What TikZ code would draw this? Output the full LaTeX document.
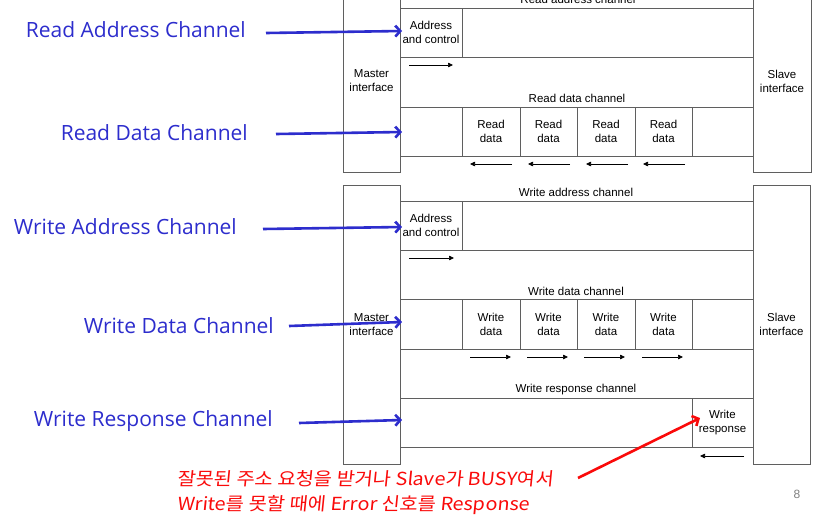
\documentclass[tikz,border=0pt]{standalone}
\usepackage{fontspec}
\setmainfont{Liberation Sans}
\newfontfamily\lblfont{Open Sans}
\newfontfamily\krfont[FakeStretch=1.1,FakeSlant=0.1]{Noto Sans CJK KR}
\usetikzlibrary{arrows.meta}
\definecolor{lblblue}{RGB}{45,45,205}
\definecolor{lnclr}{RGB}{95,95,95}
\definecolor{redclr}{RGB}{250,10,10}
\begin{document}
\begin{tikzpicture}[x=1pt,y=-1pt,
  dfont/.style={font=\fontsize{11.5}{14}\selectfont},
  iface/.style={draw=lnclr, line width=0.8pt, fill=white, align=center, dfont, inner sep=0pt},
  txt/.style={align=center, dfont, inner sep=0pt},
  chline/.style={draw=lnclr, line width=0.8pt},
  flow/.style={-{Triangle[length=5pt,width=4.5pt]}, line width=0.7pt},
  lbl/.style={font=\lblfont\fontsize{21}{24}\selectfont, text=lblblue, anchor=east, inner sep=0pt},
  bluearrow/.style={draw=lblblue, line width=2.6pt, -{Straight Barb[length=5pt,width=11pt]}},
  redarrow/.style={draw=redclr, line width=2.6pt, -{Straight Barb[length=5pt,width=11pt]}},
]
\useasboundingbox[fill=white] (0,0) rectangle (836,525);

% ---------------- Read (top) ----------------
\node[iface, minimum width=57, minimum height=182] (m1) at (371.5,81) {Master\\interface};
\node[iface, minimum width=58, minimum height=182] (s1) at (782,81) {Slave\\interface};

\node[txt] (rach) at (578,-1) {Read address channel};
\draw[chline] (400,8) rectangle (753,57);
\draw[chline] (462,8) -- (462,57);
\node[txt] (rac) at (431,32.5) {Address\\and control};
\draw[flow] (409,65) -- (453,65);

\node[txt] (rdch) at (577,98) {Read data channel};
\draw[chline] (400,107) rectangle (753,156);
\foreach \x in {462,520,577,635,692} \draw[chline] (\x,107) -- (\x,156);
\node[txt] (rd1) at (491,131.5) {Read\\data};
\node[txt] (rd2) at (548.5,131.5) {Read\\data};
\node[txt] (rd3) at (606,131.5) {Read\\data};
\node[txt] (rd4) at (663.5,131.5) {Read\\data};
\foreach \x in {470,528,586,643} \draw[flow] (\x+42,164) -- (\x,164);

% ---------------- Write (bottom) ----------------
\node[iface, minimum width=57, minimum height=279] (m2) at (371.5,324.5) {Master\\interface};
\node[iface, minimum width=57, minimum height=279] (s2) at (781.5,324.5) {Slave\\interface};

\node[txt] (wach) at (576,192) {Write address channel};
\draw[chline] (400,201) rectangle (753,250);
\draw[chline] (462,201) -- (462,250);
\node[txt] (wac) at (431,225.5) {Address\\and control};
\draw[flow] (409,258) -- (454,258);

\node[txt] (wdch) at (576,291) {Write data channel};
\draw[chline] (400,299) rectangle (753,349);
\foreach \x in {462,520,577,635,692} \draw[chline] (\x,299) -- (\x,349);
\node[txt] (wd1) at (491,324) {Write\\data};
\node[txt] (wd2) at (548.5,324) {Write\\data};
\node[txt] (wd3) at (606,324) {Write\\data};
\node[txt] (wd4) at (663.5,324) {Write\\data};
\foreach \x in {470,527,584,642} \draw[flow] (\x,357) -- (\x+41,357);

\node[txt] (wrch) at (576,390) {Write response channel};
\draw[chline] (400,398) rectangle (753,447);
\draw[chline] (692,398) -- (692,447);
\node[txt] (wr) at (722.5,422.5) {Write\\response};
\draw[flow] (744,456) -- (700,456);

% ---------------- Labels ----------------
\node[lbl] (lra) at (246,30) {Read Address Channel};
\node[lbl] (lrd) at (248,133) {Read Data Channel};
\node[lbl] (lwa) at (237,227) {Write Address Channel};
\node[lbl] (lwd) at (274,326) {Write Data Channel};
\node[lbl] (lwr) at (273,421) {Write Response Channel};

\coordinate (raT) at (266,33);  \coordinate (raH) at (402,31);
\coordinate (rdT) at (276,134); \coordinate (rdH) at (402,132);
\coordinate (waT) at (263,229); \coordinate (waH) at (402,227);
\coordinate (wdT) at (289,326); \coordinate (wdH) at (402,322);
\coordinate (wrT) at (299,423); \coordinate (wrH) at (402,420);
\draw[bluearrow] (raT) -- (raH);
\draw[bluearrow] (rdT) -- (rdH);
\draw[bluearrow] (waT) -- (waH);
\draw[bluearrow] (wdT) -- (wdH);
\draw[bluearrow] (wrT) -- (wrH);

% ---------------- Note ----------------
\node[anchor=base west, inner sep=0pt, align=left, text=redclr,
      font=\krfont\fontsize{18}{25}\selectfont] (note) at (177,510)
  {잘못된 주소 요청을 받거나 Slave가 BUSY여서\\Write를 못할 때에 Error 신호를 Response};
\coordinate (nT) at (578,478); \coordinate (nH) at (700,418);
\draw[redarrow] (nT) -- (nH);

\node[text=gray, font=\fontsize{12}{14}\selectfont, inner sep=0pt] (pg) at (797,494) {8};
\end{tikzpicture}
\end{document}
